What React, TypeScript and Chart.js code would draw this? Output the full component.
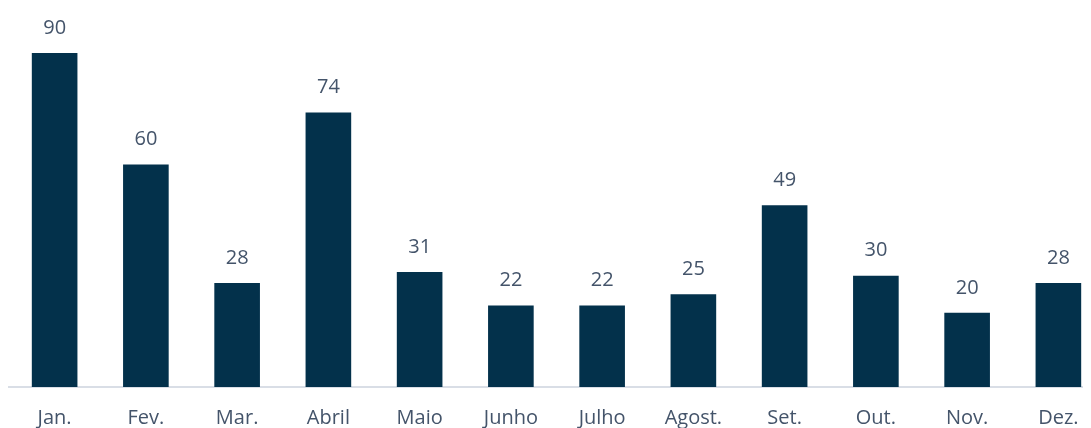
import React, { useEffect, useRef } from "react";
import { Chart, registerables } from "chart.js";

Chart.register(...registerables);

const months = ["Jan.", "Fev.", "Mar.", "Abril", "Maio", "Junho", "Julho", "Agost.", "Set.", "Out.", "Nov.", "Dez."];
const values = [90, 60, 28, 74, 31, 22, 22, 25, 49, 30, 20, 28];

const BAR = "#03314B";
const TEXT = "#44546A";
const FONT = "'Open Sans', 'Noto Sans', sans-serif";

const labelPlugin = {
  id: "barLabels",
  afterDatasetsDraw(chart: any) {
    const ctx = chart.ctx;
    const meta = chart.getDatasetMeta(0);
    ctx.save();
    ctx.fillStyle = TEXT;
    ctx.font = `20px ${FONT}`;
    ctx.textAlign = "center";
    ctx.textBaseline = "middle";
    meta.data.forEach((el: any, i: number) => {
      ctx.fillText(String(values[i]), el.x, el.y - 25);
    });
    ctx.restore();
  },
};

export default function App() {
  const ref = useRef<HTMLCanvasElement>(null);
  useEffect(() => {
    if (!ref.current) return;
    const chart = new Chart(ref.current, {
      type: "bar",
      data: {
        labels: months,
        datasets: [
          {
            data: values,
            backgroundColor: BAR,
            barPercentage: 0.5,
            categoryPercentage: 1.0,
          },
        ],
      },
      options: {
        animation: false,
        responsive: false,
        maintainAspectRatio: false,
        layout: { padding: { top: 8, left: 1, right: 0, bottom: 0 } },
        plugins: { legend: { display: false }, tooltip: { enabled: false } },
        scales: {
          y: { display: false, min: 0, max: 100 },
          x: {
            grid: { display: false, drawTicks: false },
            border: { display: true, color: "#D9DEE6", width: 2 },
            ticks: {
              color: TEXT,
              font: { family: FONT, size: 20 },
              padding: 19,
              maxRotation: 0,
              autoSkip: false,
            },
          },
        },
      },
      plugins: [labelPlugin],
    });
    return () => chart.destroy();
  }, []);
  return (
    <div style={{ width: 1096, height: 441 }}>
      <canvas ref={ref} width={1096} height={441} style={{ display: "block" }} />
    </div>
  );
}
